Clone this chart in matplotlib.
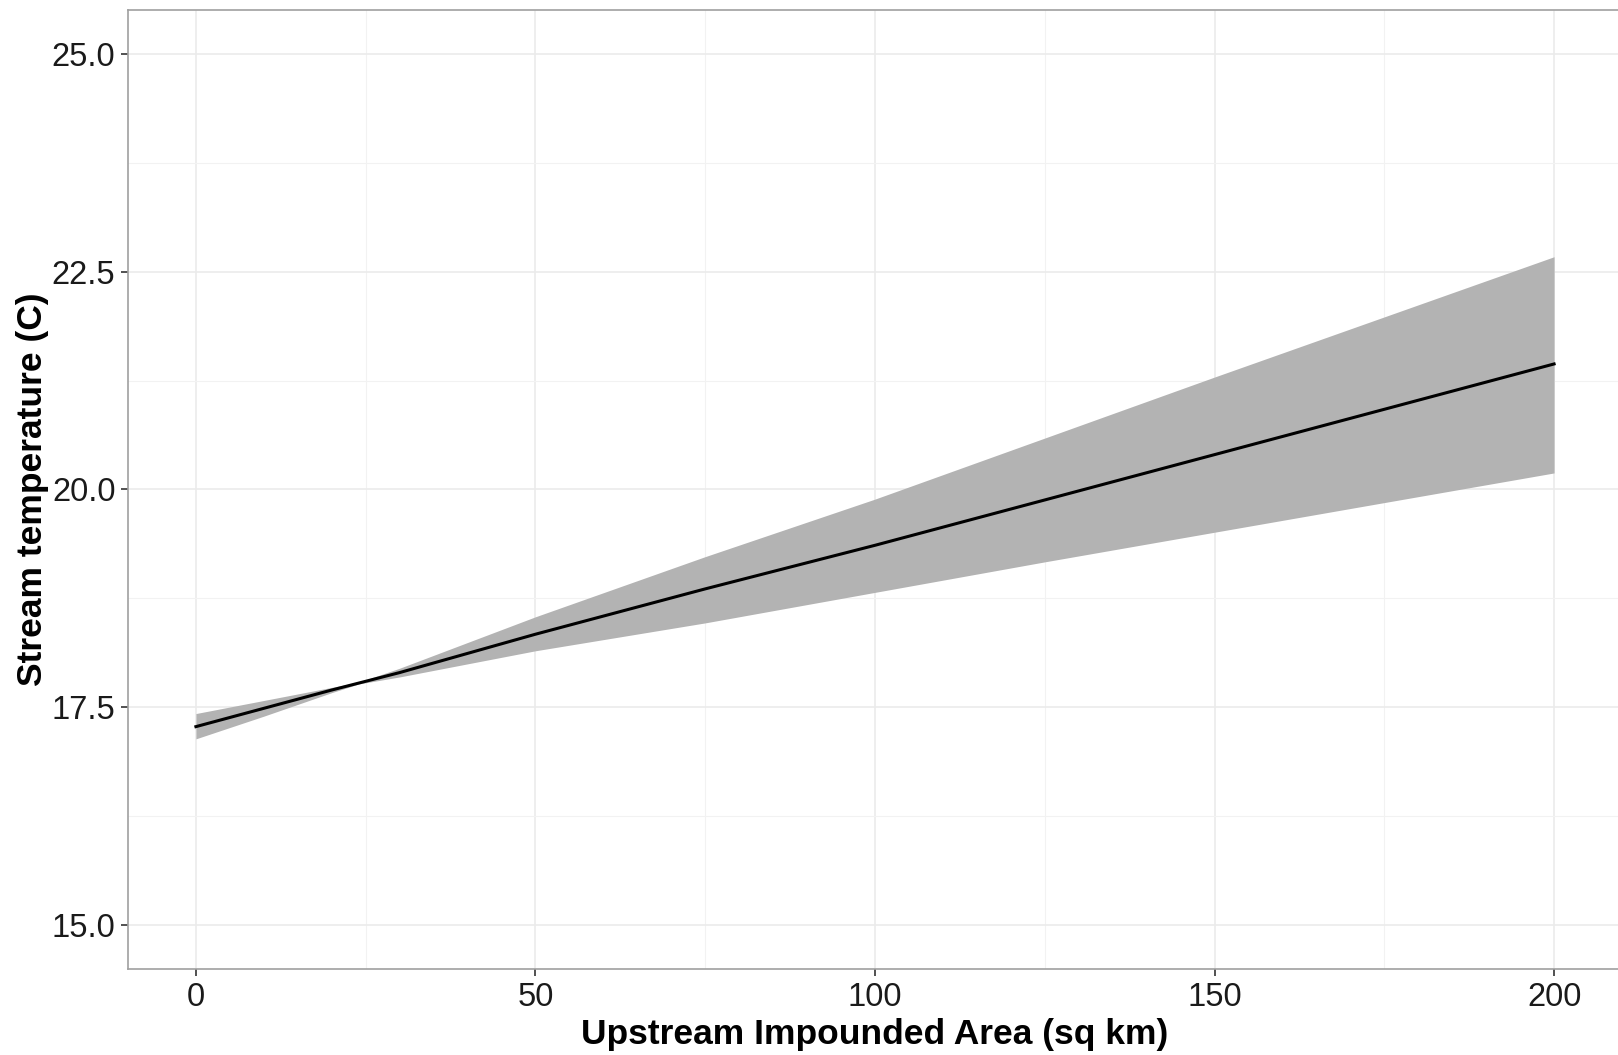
import numpy as np
import matplotlib
matplotlib.use("Agg")
import matplotlib.pyplot as plt
from matplotlib.ticker import MultipleLocator

# fitted line and confidence band
area = [0, 10, 20, 24, 30, 50, 75, 100, 125, 150, 175, 200]
fit = [17.28, 17.49, 17.70, 17.78, 17.90, 18.34, 18.86, 19.36, 19.88, 20.40, 20.92, 21.44]
upper = [17.43, 17.58, 17.73, 17.79, 17.95, 18.54, 19.23, 19.89, 20.59, 21.29, 21.98, 22.67]
lower = [17.14, 17.40, 17.67, 17.77, 17.85, 18.15, 18.47, 18.82, 19.17, 19.51, 19.85, 20.19]

x_ticks = [0, 50, 100, 150, 200]
y_ticks = [15.0, 17.5, 20.0, 22.5, 25.0]

plt.rcParams['font.family'] = ['Liberation Sans', 'DejaVu Sans']

fig = plt.figure(figsize=(16.18, 10.55), dpi=100)
ax = fig.add_axes([128 / 1618, 1 - 969 / 1055, (1622 - 128) / 1618, (969 - 10) / 1055])

ax.fill_between(area, lower, upper, color='#b3b3b3', linewidth=0, zorder=2)
ax.plot(area, fit, color='black', linewidth=2.2, zorder=3)

ax.set_xlim(-10, 210)
ax.set_ylim(14.5, 25.5)
ax.set_xticks(x_ticks)
ax.set_xticklabels([str(t) for t in x_ticks])
ax.set_yticks(y_ticks)
ax.set_yticklabels([f"{t:.1f}" for t in y_ticks])
ax.xaxis.set_minor_locator(MultipleLocator(25))
ax.yaxis.set_minor_locator(MultipleLocator(1.25))

ax.grid(which='major', color='#ebebeb', linewidth=1.2, zorder=0)
ax.grid(which='minor', color='#f2f2f2', linewidth=0.8, zorder=0)
ax.set_axisbelow(True)

for s in ax.spines.values():
    s.set_color('#a0a0a0')
    s.set_linewidth(1.2)
ax.spines['right'].set_visible(False)

ax.tick_params(which='major', length=5, width=1.2, color='#333333',
               labelsize=23.5, labelcolor='#1a1a1a', pad=4)
ax.tick_params(which='minor', length=0)

ax.set_xlabel("Upstream Impounded Area (sq km)", fontsize=25.5, fontweight='bold', labelpad=4)
ax.set_ylabel("Stream temperature (C)", fontsize=25.5, fontweight='bold', labelpad=2)

fig.savefig("out.png", dpi=100)
